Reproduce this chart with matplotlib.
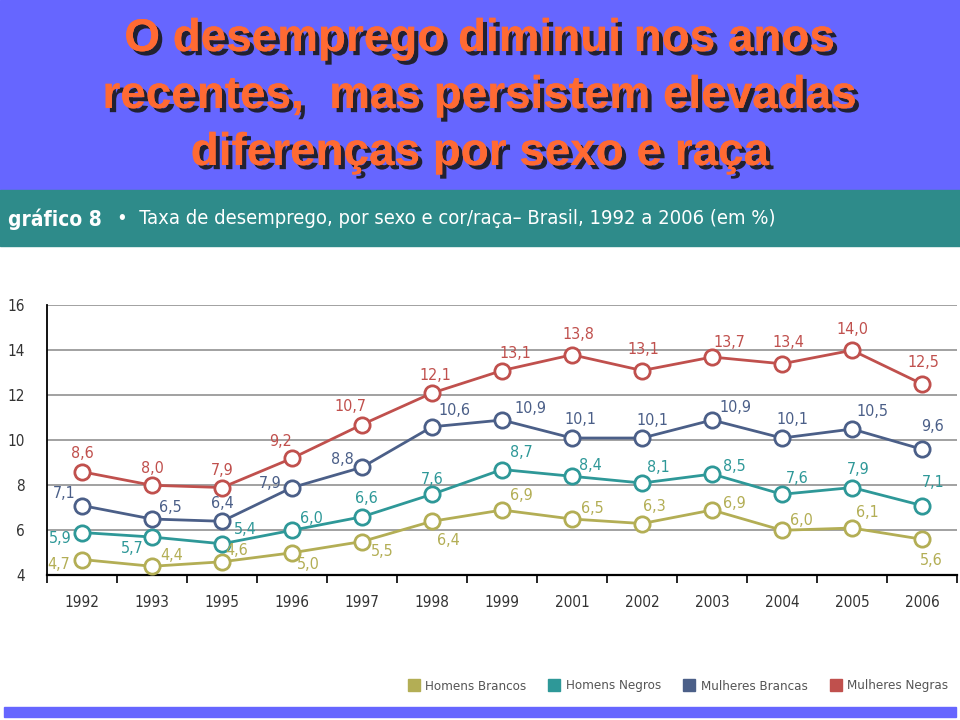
import matplotlib
matplotlib.use('Agg')
import matplotlib.pyplot as plt
import matplotlib.patheffects as pe
from matplotlib.patches import Rectangle
from matplotlib.lines import Line2D

anos = ['1992', '1993', '1995', '1996', '1997', '1998', '1999',
        '2001', '2002', '2003', '2004', '2005', '2006']
homens_brancos = [4.7, 4.4, 4.6, 5.0, 5.5, 6.4, 6.9, 6.5, 6.3, 6.9, 6.0, 6.1, 5.6]
homens_negros = [5.9, 5.7, 5.4, 6.0, 6.6, 7.6, 8.7, 8.4, 8.1, 8.5, 7.6, 7.9, 7.1]
mulheres_brancas = [7.1, 6.5, 6.4, 7.9, 8.8, 10.6, 10.9, 10.1, 10.1, 10.9, 10.1, 10.5, 9.6]
mulheres_negras = [8.6, 8.0, 7.9, 9.2, 10.7, 12.1, 13.1, 13.8, 13.1, 13.7, 13.4, 14.0, 12.5]
nomes = ['Homens Brancos', 'Homens Negros', 'Mulheres Brancas', 'Mulheres Negras']

cores = ['#b3ae55', '#2e9898', '#4b5f88', '#c0504d']

# posicao dos rotulos (pixels) para cada serie
desl_hb = [(-23, -5), (20, 11), (15, 11), (16, -12), (20, -10), (16, -19), (19, 15),
           (20, 11), (12, 17), (22, 7), (19, 10), (15, 16), (9, -21)]
desl_hn = [(-22, -6), (-20, -11), (23, 14), (19, 12), (4, 18), (0, 15), (19, 17),
           (18, 11), (16, 16), (22, 8), (15, 16), (6, 18), (11, 23)]
desl_mb = [(-18, 12), (18, 12), (0, 18), (-22, 4), (-20, 8), (22, 16), (28, 12),
           (8, 19), (10, 18), (23, 13), (10, 19), (20, 18), (10, 23)]
desl_mn = [(0, 18), (0, 17), (0, 17), (-12, 17), (-12, 18), (3, 18), (13, 17),
           (6, 20), (1, 21), (17, 15), (6, 21), (0, 21), (1, 22)]

estreita = dict(family='DejaVu Sans', stretch='condensed')

fig = plt.figure(figsize=(9.6, 7.2), dpi=100)
fig.patches.append(Rectangle((0, 0.736), 1, 0.264, transform=fig.transFigure,
                             color='#6666ff', zorder=0))
fig.patches.append(Rectangle((0, 0.658), 1, 0.078, transform=fig.transFigure,
                             color='#2e8b8a', zorder=0))
fig.patches.append(Rectangle((0.004, 0.004), 0.992, 0.014, transform=fig.transFigure,
                             color='#6666ff', zorder=0))

sombra = [pe.withSimplePatchShadow(offset=(3, -3), shadow_rgbFace='#1a1a1a', alpha=0.9),
          pe.Normal()]
titulo = ['O desemprego diminui nos anos',
          'recentes,  mas persistem elevadas',
          'diferenças por sexo e raça']
for i, linha in enumerate(titulo):
    fig.text(0.5, 1 - (39 + i * 57) / 720, linha, ha='center', va='center',
             fontsize=33, fontweight='bold', color='#ff6a33',
             family=['Liberation Sans', 'DejaVu Sans'], path_effects=sombra)

fig.text(0.008, 1 - 219 / 720, 'gráfico 8', ha='left', va='center', fontsize=15,
         fontweight='bold', color='white', **estreita)
fig.text(0.122, 1 - 219 / 720, '•  Taxa de desemprego, por sexo e cor/raça– Brasil, 1992 a 2006 (em %)',
         ha='left', va='center', fontsize=14.5, color='white', **estreita)

ax = fig.add_axes([0.049, 0.201, 0.948, 0.375])
x = list(range(len(anos)))
series = [homens_brancos, homens_negros, mulheres_brancas, mulheres_negras]
deslocs = [desl_hb, desl_hn, desl_mb, desl_mn]
for serie, cor, desl in zip(series, cores, deslocs):
    ax.plot(x, serie, color=cor, lw=2, marker='o', markersize=11,
            markerfacecolor='white', markeredgecolor=cor, markeredgewidth=2, zorder=3)
    for xi, v, d in zip(x, serie, desl):
        ax.annotate(f'{v:.1f}'.replace('.', ','), (xi, v), xytext=d,
                    textcoords='offset pixels', ha='center', va='center',
                    fontsize=11.5, color=cor, zorder=4, **estreita)

ax.set_xlim(-0.5, len(anos) - 0.5)
ax.set_ylim(4, 16)
ax.set_yticks(range(4, 17, 2))
ax.set_xticks(x)
ax.set_xticklabels(anos, fontsize=11, color='#333333', **estreita)
ax.set_xticks([i - 0.5 for i in range(len(anos) + 1)], minor=True)
ax.tick_params(axis='x', which='major', length=0, pad=14)
ax.tick_params(axis='x', which='minor', length=6, width=1.2, direction='out')
ax.tick_params(axis='y', length=0, pad=16, labelsize=11, labelcolor='#333333')
for t in ax.get_yticklabels():
    t.set_family('DejaVu Sans')
    t.set_stretch('condensed')
ax.grid(axis='y', color='#9a9a9a', lw=1.3)
ax.set_axisbelow(True)
for s in ['top', 'right']:
    ax.spines[s].set_visible(False)
ax.spines['left'].set_linewidth(1.3)
ax.spines['bottom'].set_linewidth(1.6)

handles = [Line2D([], [], ls='', marker='s', markersize=8, color=c) for c in cores]
fig.legend(handles, nomes, loc='center right', bbox_to_anchor=(1.0, 1 - 686 / 720),
           ncol=4, frameon=False, handlelength=0.9, handletextpad=0.4, columnspacing=1.7,
           prop={'family': 'DejaVu Sans', 'stretch': 'condensed', 'size': 9.5},
           labelcolor='#555555')

fig.savefig('out.png', dpi=100)
